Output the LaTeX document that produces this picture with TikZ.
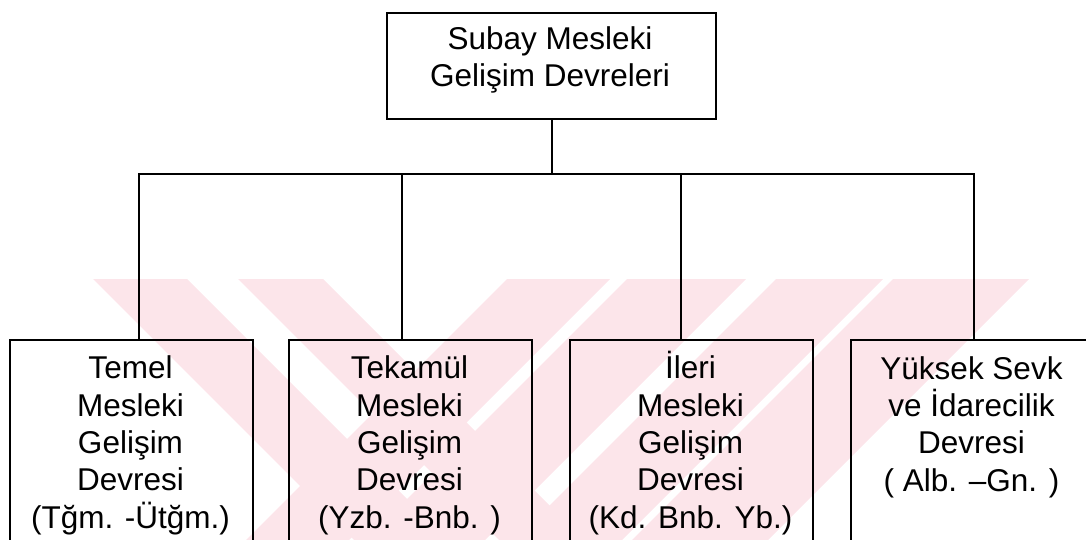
\documentclass[tikz,border=0pt]{standalone}
\usepackage{fontspec}
\setmainfont{Liberation Sans}
\definecolor{wm}{RGB}{252,229,234}
\begin{document}
\begin{tikzpicture}[x=1pt,y=-1pt,
  box/.style={draw, line width=2.2pt, minimum width=243pt, minimum height=220pt, inner sep=0pt, anchor=north west},
  lbl/.style={align=center, font=\fontsize{31.5}{37.3}\selectfont, inner sep=0pt, anchor=base},
  conn/.style={line width=2pt},
  wmark/.style={fill=wm}]
\useasboundingbox (0,0) rectangle (1086,540);
\clip (0,0) rectangle (1086,540);
% watermark
\fill[wmark] (93,279) -- (187,279) -- (448,540) -- (354,540) -- cycle;
\fill[wmark] (238,279) -- (323,279) -- (584,540) -- (499,540) -- cycle;
\fill[wmark] (507,279) -- (610,279) -- (349,540) -- (246,540) -- cycle;
\fill[wmark] (627,279) -- (746,279) -- (485,540) -- (366,540) -- cycle;
\fill[wmark] (776,279) -- (883,279) -- (622,540) -- (515,540) -- cycle;
\fill[wmark] (893,279) -- (1029,279) -- (768,540) -- (632,540) -- cycle;
% boxes
\node[box, minimum width=329pt, minimum height=106pt] (top) at (386,12) {};
\node[box] (b1) at (9,339) {};
\node[box] (b2) at (288,339) {};
\node[box] (b3) at (569,339) {};
\node[box] (b4) at (850,339) {};
% connector points
\coordinate (hub) at (551,174);
\coordinate (t1) at (139,339);
\coordinate (t2) at (402,339);
\coordinate (t3) at (681,339);
\coordinate (t4) at (974,339);
\draw[conn] (top.south) -- (top.south |- hub);
\draw[conn] (t1) |- (hub) -| (t4);
\draw[conn] (t2) -- (t2 |- hub);
\draw[conn] (t3) -- (t3 |- hub);
% labels (anchor=base is the last line's baseline)
\node[lbl] (l0) at (550,87) {Subay Mesleki\\Gelişim Devreleri};
\node[lbl] (l1) at (130.5,528) {Temel\\Mesleki\\Gelişim\\Devresi\\(Tğm. -Ütğm.)};
\node[lbl] (l2) at (409.5,528) {Tekamül\\Mesleki\\Gelişim\\Devresi\\(Yzb. -Bnb. )};
\node[lbl] (l3) at (690.5,528) {İleri\\Mesleki\\Gelişim\\Devresi\\(Kd. Bnb. Yb.)};
\node[lbl] (l4) at (971.5,491) {Yüksek Sevk\\ve İdarecilik\\Devresi\\( Alb. –Gn. )};
\end{tikzpicture}
\end{document}
